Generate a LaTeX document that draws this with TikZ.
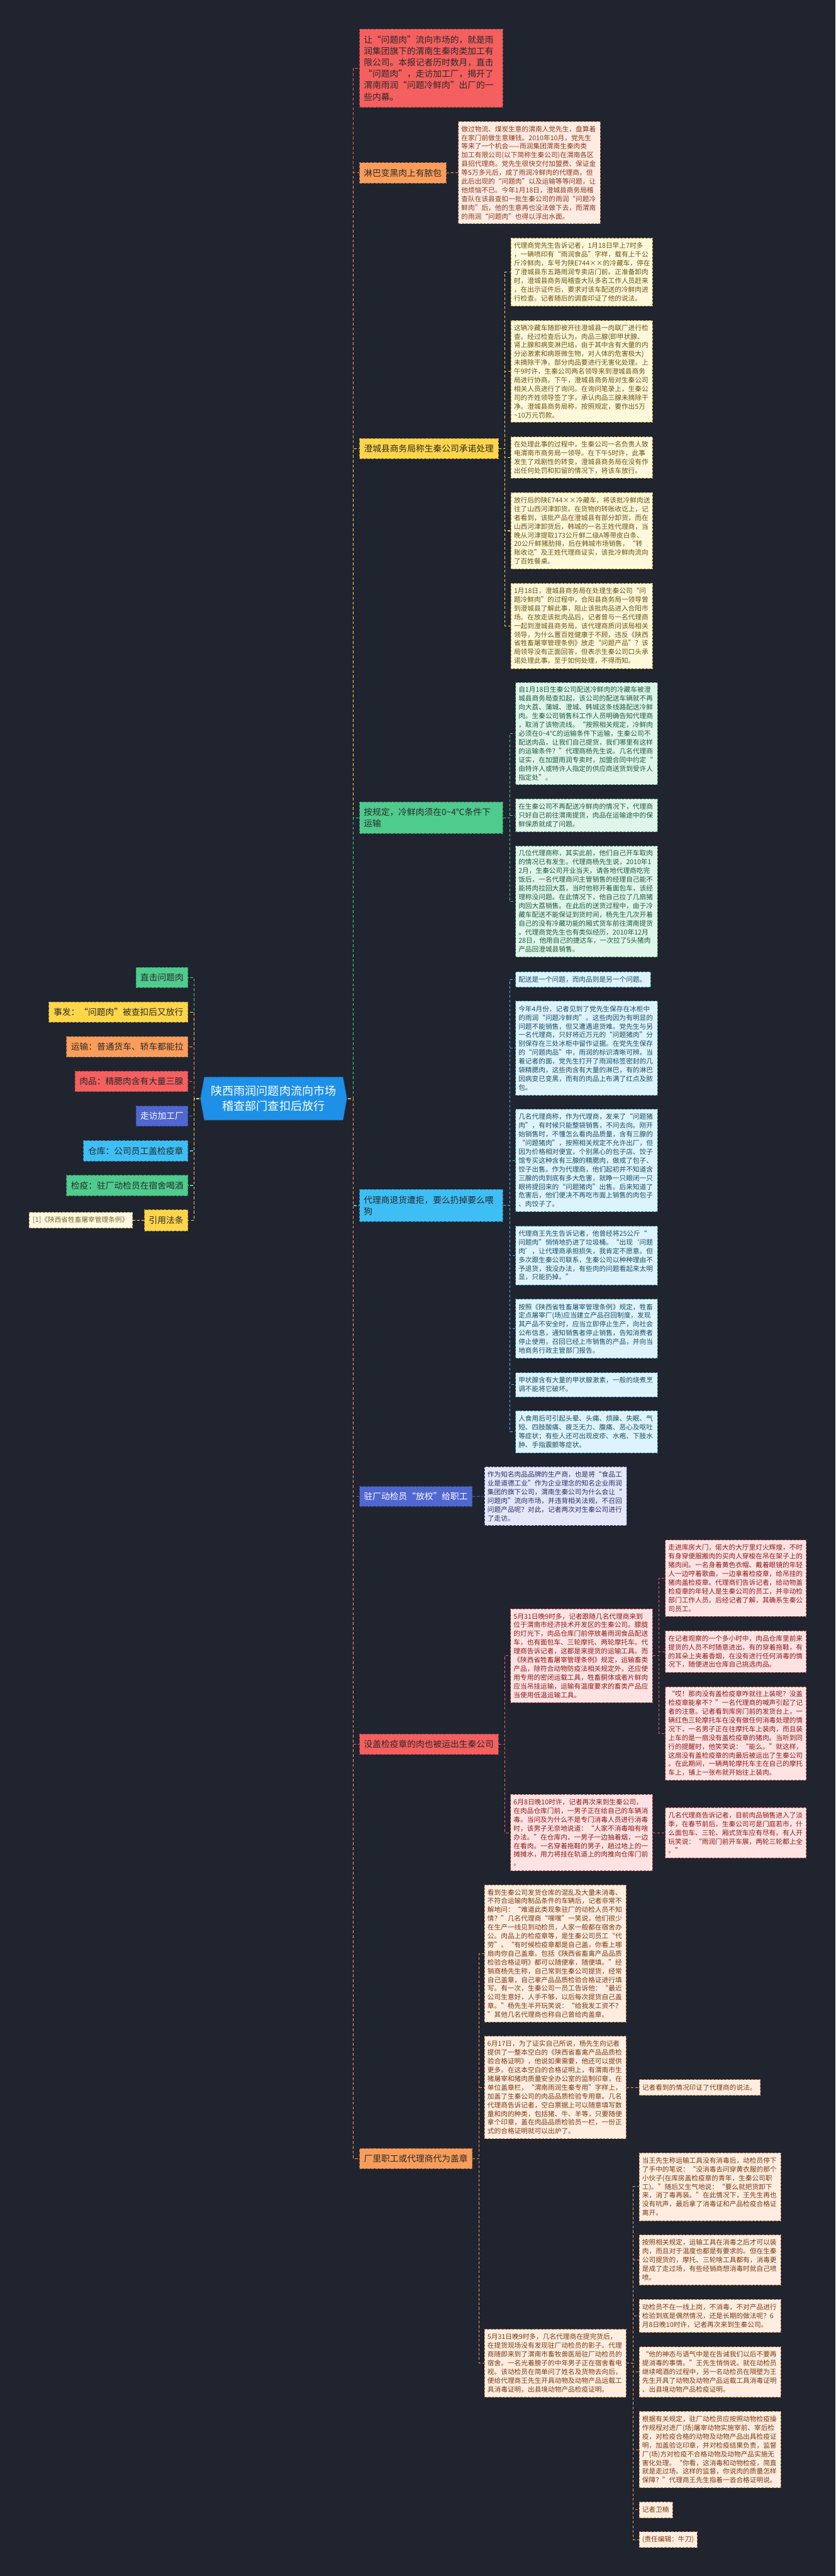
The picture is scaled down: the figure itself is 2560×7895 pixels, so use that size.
\documentclass[tikz,border=0pt]{standalone}
\usepackage{fontspec}
\setmainfont{Noto Sans CJK SC}
\usetikzlibrary{backgrounds}
\definecolor{bg}{HTML}{20242F}
\definecolor{cGreen}{HTML}{4ECB8D}
\definecolor{cYellow}{HTML}{FFD54A}
\definecolor{cOrange}{HTML}{FA9D5A}
\definecolor{cRed}{HTML}{F45F5F}
\definecolor{cPurple}{HTML}{5067D0}
\definecolor{cLblue}{HTML}{3DBEF5}
\definecolor{cCentral}{HTML}{1E90E8}
\definecolor{txtdark}{HTML}{2A2A2A}
\definecolor{fPeach}{HTML}{FEEBE2}\definecolor{tPeach}{HTML}{8A3A1E}
\definecolor{fYellow}{HTML}{FFF8DA}\definecolor{tYellow}{HTML}{6B5514}
\definecolor{fGreen}{HTML}{E0F6EA}\definecolor{tGreen}{HTML}{1F5C3C}
\definecolor{fBlue}{HTML}{DDF4FD}\definecolor{tBlue}{HTML}{1D4D63}
\definecolor{fPurple}{HTML}{E4E7F8}\definecolor{tPurple}{HTML}{2A2F66}
\definecolor{fPink}{HTML}{FFE3E3}\definecolor{tPink}{HTML}{8B1A1A}
\definecolor{fOrange}{HTML}{FFEEE0}\definecolor{tOrange}{HTML}{7A3A14}
\definecolor{fNote}{HTML}{FFF8E3}\definecolor{tNote}{HTML}{7A6A2A}
\tikzset{
  cn/.style={draw=#1, line width=2.5pt, dash pattern=on 9pt off 6pt},
  sc/.style={draw=#1, line width=2pt, dash pattern=on 8pt off 6pt},
  lnode/.style={anchor=north west, inner xsep=13pt, inner ysep=0pt,
    font=\fontsize{26.5}{35}\selectfont, fill=#1, draw=#1!70!black,
    line width=1.5pt, dash pattern=on 8pt off 4pt, text=txtdark},
  tbase/.style={anchor=north west, inner xsep=9pt, inner ysep=0pt, align=left,
    font=\fontsize{20.6}{26.8}\selectfont, line width=1.5pt, dash pattern=on 7pt off 4pt},
  tP/.style={tbase, fill=fPeach, draw=cOrange!80!black, text=tPeach},
  tY/.style={tbase, fill=fYellow, draw=cYellow!75!black, text=tYellow},
  tG/.style={tbase, fill=fGreen, draw=cGreen!75!black, text=tGreen},
  tB/.style={tbase, fill=fBlue, draw=cLblue!75!black, text=tBlue},
  tU/.style={tbase, fill=fPurple, draw=cPurple!80!black, text=tPurple},
  tR/.style={tbase, fill=fPink, draw=cRed!80!black, text=tPink},
  tO/.style={tbase, fill=fOrange, draw=cOrange!80!black, text=tOrange},
}
\newcommand\tb[7]{\pgfmathsetmacro\mytw{#5-18}%
  \node[#2, minimum width=#5pt, minimum height=#6pt, text width=\mytw pt] (#1) at (#3,#4) {#7};}
\begin{document}
\begin{tikzpicture}[x=1pt,y=-1pt]
\useasboundingbox (0,0) rectangle (2560,7895);
\begin{scope}[on background layer]
\fill[bg] (0,0) rectangle (2560,7895);
\end{scope}
\coordinate (lspine) at (595,3367);
\coordinate (rspine) at (1082,3367);

% central
\fill[cCentral, draw=cCentral!70!black, line width=1.5pt, dash pattern=on 8pt off 4pt]
  (614,3367) -- (626,3301) -- (1051,3301) -- (1063,3367) -- (1051,3433) -- (626,3433) -- cycle;
\node[text=white, font=\fontsize{35}{47}\selectfont, align=center, minimum width=425pt,
  minimum height=132pt, inner sep=0pt] (c) at (838.5,3367) {陕西雨润问题肉流向市场\\稽查部门查扣后放行};

% left branches
\node[lnode=cGreen, minimum width=159pt, minimum height=62pt] (L1) at (416,2964) {直击问题肉};
\node[lnode=cYellow, minimum width=426pt, minimum height=62pt] (L2) at (149,3070) {事发：“问题肉”被查扣后又放行};
\node[lnode=cOrange, minimum width=372pt, minimum height=63pt] (L3) at (203,3176) {运输：普通货车、轿车都能拉};
\node[lnode=cRed, minimum width=346pt, minimum height=63pt] (L4) at (229,3282) {肉品：精腮肉含有大量三腺};
\node[lnode=cPurple, text=white, minimum width=159pt, minimum height=62pt] (L5) at (416,3389) {走访加工厂};
\node[lnode=cLblue, minimum width=320pt, minimum height=63pt] (L6) at (255,3495) {仓库：公司员工盖检疫章};
\node[lnode=cGreen, minimum width=372pt, minimum height=63pt] (L7) at (203,3601) {检疫：驻厂动检员在宿舍喝酒};
\node[lnode=cYellow, minimum width=133pt, minimum height=65pt] (L8) at (442,3707) {引用法条};
\node[anchor=north west, inner sep=0pt, fill=fNote, draw=cYellow!70!black, line width=1.5pt,
  dash pattern=on 7pt off 4pt, text=tNote, font=\fontsize{20.6}{26.8}\selectfont,
  minimum width=317pt, minimum height=48pt] (L8a) at (88,3715) {[1]《陕西省牲畜屠宰管理条例》};

% right main nodes
\node[lnode=cRed, align=left, text width=413pt, minimum width=439pt, minimum height=240pt,
  font=\fontsize{26.5}{35.1}\selectfont] (R1) at (1101,88) {让“问题肉”流向市场的，就是雨\\
润集团旗下的渭南生秦肉类加工有\\
限公司。本报记者历时数月，直击\\
“问题肉”，走访加工厂，揭开了\\
渭南雨润“问题冷鲜肉”出厂的一\\
些内幕。};
\node[lnode=cOrange, minimum width=265pt, minimum height=62pt] (R2) at (1101,498) {淋巴变黑肉上有脓包};
\node[lnode=cYellow, minimum width=425pt, minimum height=62pt] (R3) at (1101,1343) {澄城县商务局称生秦公司承诺处理};
\node[lnode=cGreen, align=left, text width=413pt, minimum width=439pt, minimum height=97pt] (R4) at (1101,2457) {按规定，冷鲜肉须在0\textasciitilde4℃条件下\\运输};
\node[lnode=cLblue, align=left, text width=413pt, minimum width=439pt, minimum height=98pt] (R5) at (1101,3645) {代理商退货遭拒，要么扔掉要么喂\\狗};
\node[lnode=cPurple, text=white, minimum width=345pt, minimum height=61pt] (R6) at (1101,4555) {驻厂动检员“放权”给职工};
\node[lnode=cRed, minimum width=425pt, minimum height=62pt] (R7) at (1101,5314) {没盖检疫章的肉也被运出生秦公司};
\node[lnode=cOrange, minimum width=345pt, minimum height=62pt] (R8) at (1101,6584) {厂里职工或代理商代为盖章};

% branch 2
\tb{R2a}{tP}{1404}{372}{435}{313}{做过物流、煤炭生意的渭南人党先生，盘算着\\
在家门前做生意赚钱。2010年10月，党先生\\
等来了一个机会——雨润集团渭南生秦肉类\\
加工有限公司(以下简称生秦公司)在渭南各区\\
县招代理商。党先生很快交付加盟费、保证金\\
等5万多元后，成了雨润冷鲜肉的代理商。但\\
此后出现的“问题肉”以及运输等等问题，让\\
他烦恼不已。今年1月18日，澄城县商务局稽\\
查队在该县查扣一批生秦公司的雨润“问题冷\\
鲜肉”后，他的生意再也没法做下去，而渭南\\
的雨润“问题肉”也得以浮出水面。}

% branch 3
\tb{C31}{tY}{1565}{729}{433}{208}{代理商党先生告诉记者，1月18日早上7时多\\
，一辆喷印有“雨润食品”字样，载有上千公\\
斤冷鲜肉，车号为陕E744××的冷藏车，停在\\
了澄城县东五路雨润专卖店门前。正准备卸肉\\
时，澄城县商务局稽查大队多名工作人员赶来\\
，在出示证件后，要求对该车配送的冷鲜肉进\\
行检查。记者随后的调查印证了他的说法。}
\tb{C32}{tY}{1565}{982}{433}{311}{这辆冷藏车随即被开往澄城县一肉联厂进行检\\
查。经过检查后认为，肉品三腺(即甲状腺、\\
肾上腺和病变淋巴结，由于其中含有大量的内\\
分泌激素和病原微生物，对人体的危害极大)\\
未摘除干净，部分肉品要进行无害化处理。上\\
午9时许，生秦公司两名领导来到澄城县商务\\
局进行协商。下午，澄城县商务局对生秦公司\\
相关人员进行了询问。在询问笔录上，生秦公\\
司的齐姓领导签了字，承认肉品三腺未摘除干\\
净。澄城县商务局称，按照规定，要作出5万\\
\textasciitilde10万元罚款。}
\tb{C33}{tY}{1565}{1338}{433}{127}{在处理此事的过程中，生秦公司一名负责人致\\
电渭南市商务局一领导。在下午5时许，此事\\
发生了戏剧性的转变，澄城县商务局在没有作\\
出任何处罚和扣留的情况下，将该车放行。}
\tb{C34}{tY}{1565}{1509}{433}{234}{放行后的陕E744××冷藏车，将该批冷鲜肉送\\
往了山西河津卸货。在货物的转账收讫上，记\\
者看到，该批产品在澄城县有部分卸货，而在\\
山西河津卸货后，韩城的一名王姓代理商，当\\
晚从河津提取173公斤鲜二级A等带皮白条、\\
20公斤鲜猪肋排，后在韩城市场销售，“转\\
账收讫”及王姓代理商证实，该批冷鲜肉流向\\
了百姓餐桌。}
\tb{C35}{tY}{1565}{1787}{433}{261}{1月18日，澄城县商务局在处理生秦公司“问\\
题冷鲜肉”的过程中，合阳县商务局一领导曾\\
到澄城县了解此事，阻止该批肉品进入合阳市\\
场。在放走该批肉品后，记者曾与一名代理商\\
一起到澄城县商务局，该代理商质问该局相关\\
领导，为什么置百姓健康于不顾，违反《陕西\\
省牲畜屠宰管理条例》放走“问题产品”？该\\
局领导没有正面回答，但表示生秦公司口头承\\
诺处理此事。至于如何处理，不得而知。}

% branch 4
\tb{G1}{tG}{1579}{2091}{435}{313}{自1月18日生秦公司配送冷鲜肉的冷藏车被澄\\
城县商务局查扣起，该公司的配送车辆就不再\\
向大荔、蒲城、澄城、韩城这条线路配送冷鲜\\
肉。生秦公司销售科工作人员明确告知代理商\\
，取消了该物流线。“按照相关规定，冷鲜肉\\
必须在0\textasciitilde4℃的运输条件下运输，生秦公司不\\
配送肉品，让我们自己提货，我们哪里有这样\\
的运输条件？”代理商杨先生说。几名代理商\\
证实，在加盟雨润专卖时，加盟合同中约定“\\
由特许人或特许人指定的供应商送货到受许人\\
指定处”。}
\tb{G2}{tG}{1579}{2448}{435}{101}{在生秦公司不再配送冷鲜肉的情况下，代理商\\
只好自己前往渭南提货，肉品在运输途中的保\\
鲜保质就成了问题。}
\tb{G3}{tG}{1579}{2592}{435}{340}{几位代理商称，其实此前，他们自己开车取肉\\
的情况已有发生。代理商杨先生说，2010年1\\
2月，生秦公司开业当天，请各地代理商吃完\\
饭后，一名代理商问主管销售的经理自己能不\\
能将肉拉回大荔，当时他称开着面包车，该经\\
理称没问题。在此情况下，他自己拉了几扇猪\\
肉回大荔销售。在此后的送货过程中，由于冷\\
藏车配送不能保证到货时间，杨先生几次开着\\
自己的没有冷藏功能的厢式货车前往渭南提货\\
。代理商党先生也有类似经历，2010年12月\\
28日，他用自己的捷达车，一次拉了5头猪肉\\
产品回澄城县销售。}

% branch 5
\tb{B1}{tB}{1579}{2977}{414}{48}{配送是一个问题，而肉品则是另一个问题。}
\tb{B2}{tB}{1579}{3067}{435}{289}{今年4月份，记者见到了党先生保存在冰柜中\\
的雨润“问题冷鲜肉”。这些肉因为有明显的\\
问题不能销售，但又遭遇退货难。党先生与另\\
一名代理商，只好将近万元的“问题猪肉”分\\
别保存在三处冰柜中留作证据。在党先生保存\\
的“问题肉品”中，雨润的标识清晰可辨。当\\
着记者的面，党先生打开了雨润标签密封的几\\
袋精腮肉，这些肉含有大量的淋巴，有的淋巴\\
因病变已变黑，而有的肉品上布满了红点及脓\\
包。}
\tb{B3}{tB}{1579}{3399}{435}{314}{几名代理商称，作为代理商，发来了“问题猪\\
肉”，有时候只能整袋销售，不问去向。刚开\\
始销售时，不懂怎么看肉品质量，含有三腺的\\
“问题猪肉”，按照相关规定不允许出厂，但\\
因为价格相对便宜，个别黑心的包子店、饺子\\
馆专买这种含有三腺的精腮肉，做成了包子、\\
饺子出售。作为代理商，他们起初并不知道含\\
三腺的肉到底有多大危害，就睁一只眼闭一只\\
眼将提回来的“问题猪肉”出售。后来知道了\\
危害后，他们便决不再吃市面上销售的肉包子\\
、肉饺子了。}
\tb{B4}{tB}{1579}{3757}{435}{180}{代理商王先生告诉记者，他曾经将25公斤“\\
问题肉”悄悄地扔进了垃圾桶。“出现‘问题\\
肉’，让代理商承担损失，我肯定不愿意。但\\
多次跟生秦公司联系，生秦公司以种种理由不\\
予退货，我没办法，有些肉的问题看起来太明\\
显，只能扔掉。”}
\tb{B5}{tB}{1579}{3981}{435}{181}{按照《陕西省牲畜屠宰管理条例》规定，牲畜\\
定点屠宰厂(场)应当建立产品召回制度，发现\\
其产品不安全时，应当立即停止生产，向社会\\
公布信息，通知销售者停止销售，告知消费者\\
停止使用，召回已经上市销售的产品，并向当\\
地商务行政主管部门报告。}
\tb{B6}{tB}{1579}{4206}{435}{74}{甲状腺含有大量的甲状腺激素，一般的烧煮烹\\
调不能将它破坏。}
\tb{B7}{tB}{1579}{4323}{435}{129}{人食用后可引起头晕、头痛、烦躁、失眠、气\\
短、四肢酸痛、疲乏无力、腹痛、恶心及呕吐\\
等症状；有些人还可出现皮疹、水疱、下肢水\\
肿、手指震颤等症状。}

% branch 6
\tb{D1}{tU}{1484}{4495}{435}{180}{作为知名肉品品牌的生产商，也是将“食品工\\
业是道德工业”作为企业理念的知名企业雨润\\
集团的旗下公司，渭南生秦公司为什么会让“\\
问题肉”流向市场，并违背相关法规，不召回\\
问题产品呢？对此，记者两次对生秦公司进行\\
了走访。}

% branch 7
\tb{E1}{tR}{1564}{4930}{434}{287}{5月31日晚9时多，记者跟随几名代理商来到\\
位于渭南市经济技术开发区的生秦公司。朦胧\\
的灯光下，肉品仓库门前停放着雨润食品配送\\
车，也有面包车、三轮摩托、两轮摩托车。代\\
理商告诉记者，这都是来提货的运输工具。而\\
《陕西省牲畜屠宰管理条例》规定，运输畜类\\
产品，除符合动物防疫法相关规定外，还应使\\
用专用的密闭运载工具，牲畜胴体或者片鲜肉\\
应当吊挂运输，运输有温度要求的畜类产品应\\
当使用低温运输工具。}
\tb{E1a}{tR}{2038}{4719}{432}{234}{走进库房大门，偌大的大厅里灯火辉煌，不时\\
有身穿便服搬肉的买肉人穿梭在吊在架子上的\\
猪肉间。一名身着黄色衣帽、戴着眼镜的年轻\\
人一边哼着歌曲，一边拿着检疫章，给吊挂的\\
猪肉盖检疫章。代理商们告诉记者，给动物盖\\
检疫章的年轻人是生秦公司的员工，并非动检\\
部门工作人员。后经记者了解，其确系生秦公\\
司员工。}
\tb{E1b}{tR}{2038}{4997}{432}{128}{在记者观察的一个多小时中，肉品仓库里前来\\
提货的人员不时随意进出，有的穿着拖鞋，有\\
的耳朵上夹着香烟，在没有进行任何消毒的情\\
况下，随便进出仓库自己挑选肉品。}
\tb{E1c}{tR}{2038}{5169}{432}{286}{“哎！那肉没有盖检疫章咋就往上装呢？没盖\\
检疫章能拿不？”一名代理商的喊声引起了记\\
者的注意。记者看到库房门前的发货台上，一\\
辆红色三轮摩托车在没有做任何消毒处理的情\\
况下，一名男子正在往摩托车上装肉，而且装\\
上车的是一扇没有盖检疫章的猪肉。当听到同\\
行的提醒时，他笑笑说：“能么。”就这样，\\
这扇没有盖检疫章的肉最后被运出了生秦公司\\
。在此期间，一辆两轮摩托车主在自己的摩托\\
车上，铺上一张布就开始往上装肉。}
\tb{E2}{tR}{1564}{5499}{434}{234}{6月8日晚10时许，记者再次来到生秦公司，\\
在肉品仓库门前，一男子正在给自己的车辆消\\
毒。当问及为什么不是专门消毒人员进行消毒\\
时，该男子无奈地说道：“人家不消毒咱有啥\\
办法。”在仓库内，一男子一边抽着烟，一边\\
在看肉。一名穿着拖鞋的男子，趟过地上的一\\
摊摊水，用力将挂在轨道上的肉推向仓库门前\\
。}
\tb{E2a}{tR}{2038}{5539}{432}{154}{几名代理商告诉记者，目前肉品销售进入了淡\\
季，在春节前后，生秦公司可是门庭若市，什\\
么面包车、三轮、厢式货车应有尽有。有人开\\
玩笑说：“雨润门前开车展，两轮三轮都上全\\
。”}

% branch 8
\tb{O1}{tO}{1484}{5776}{434}{421}{看到生秦公司发货仓库的混乱及大量未消毒、\\
不符合运输肉制品条件的车辆后，记者非常不\\
解地问：“难道此类现象驻厂的动检人员不知\\
情？”几名代理商“嘿嘿”一笑说，他们很少\\
在生产一线见到动检员，人家一般都在宿舍办\\
公。肉品上的检疫章等，是生秦公司员工“代\\
劳”。“有时候检疫章都是自己盖，你看上哪\\
扇肉你自己盖章。包括《陕西省畜禽产品品质\\
检验合格证明》都可以随便拿，随便填。”经\\
销商杨先生称，自己常到生秦公司提货，经常\\
自己盖章，自己拿产品品质检验合格证进行填\\
写。有一次，生秦公司一员工告诉他：“最近\\
公司生意好，人手不够，以后每次提货自己盖\\
章。”杨先生半开玩笑说：“给我发工资不？\\
”其他几名代理商也称自己曾给肉盖章。}
\tb{O2}{tO}{1484}{6240}{434}{314}{6月17日，为了证实自己所说，杨先生向记者\\
提供了一整本空白的《陕西省畜禽产品品质检\\
验合格证明》，他说如果需要，他还可以提供\\
更多。在这本空白的合格证明上，有渭南市生\\
猪屠宰和猪肉质量安全办公室的监制印章，在\\
单位盖章栏，“渭南雨润生秦专用”字样上，\\
加盖了生秦公司的肉品品质检验专用章。几名\\
代理商告诉记者，空白票据上可以随意填写数\\
量和肉的种类，包括猪、牛、羊等，只要随便\\
拿个印章，盖在肉品品质检验员一栏，一份正\\
式的合格证明就可以出炉了。}
\tb{O2a}{tO}{1958}{6373}{371}{48}{记者看到的情况印证了代理商的说法。}
\tb{O3}{tO}{1484}{7138}{434}{208}{5月31日晚9时多，几名代理商在提完货后，\\
在提货现场没有发现驻厂动检员的影子。代理\\
商随即来到了渭南市畜牧兽医局驻厂动检员的\\
宿舍。一名光着膀子的中年男子正在宿舍看电\\
视。该动检员在简单问了姓名及货物去向后，\\
便给代理商王先生开具动物及动物产品运载工\\
具消毒证明，出县境动物产品检疫证明。}
\tb{O3a}{tO}{1958}{6597}{434}{208}{当王先生称运输工具没有消毒后，动检员停下\\
了手中的笔说：“没消毒去问穿黄衣服的那个\\
小伙子(在库房盖检疫章的青年，生秦公司职\\
工)。”随后又生气地说：“要么就把货卸下\\
来，消了毒再装。”在此情况下，王先生再也\\
没有吭声，最后拿了消毒证和产品检疫合格证\\
离开。}
\tb{O3b}{tO}{1958}{6849}{434}{153}{按照相关规定，运输工具在消毒之后才可以装\\
肉，而且对于温度也都是有要求的。但在生秦\\
公司提货的，摩托、三轮啥工具都有，消毒更\\
是成了走过场，有些经销商想消毒时就自己喷\\
喷。}
\tb{O3c}{tO}{1958}{7047}{434}{101}{动检员不在一线上岗，不消毒，不对产品进行\\
检验到底是偶然情况，还是长期的做法呢？6\\
月8日晚10时许，记者再次来到生秦公司。}
\tb{O3d}{tO}{1958}{7192}{434}{154}{“他的神态与语气中是在告诫我们以后不要再\\
提消毒的事情。”王先生悄悄说。就在动检员\\
继续喝酒的过程中，另一名动检员在隔壁为王\\
先生开具了动物及动物产品运载工具消毒证明\\
、出县境动物产品检疫证明。}
\tb{O3e}{tO}{1958}{7390}{434}{234}{根据有关规定，驻厂动检员应按照动物检疫操\\
作规程对进厂(场)屠宰动物实施宰前、宰后检\\
疫，对检疫合格的动物及动物产品出具检疫证\\
明，加盖验讫印章，并对检疫结果负责，监督\\
厂(场)方对检疫不合格动物及动物产品实施无\\
害化处理。“你看，这消毒和动物检疫，简直\\
就是走过场。这样的监督，你说肉的质量怎样\\
保障？”代理商王先生指着一沓合格证明说。}
\tb{O3f}{tO}{1958}{7667}{102}{49}{记者卫楠}
\tb{O3g}{tO}{1958}{7759}{177}{48}{(责任编辑：牛刀)}

% connectors
\begin{scope}[on background layer]
\draw[cn=cGreen]  (c.west) -- (lspine) |- (L1.east);
\draw[cn=cYellow] (c.west) -- (lspine) |- (L2.east);
\draw[cn=cOrange] (c.west) -- (lspine) |- (L3.east);
\draw[cn=cRed]    (c.west) -- (lspine) |- (L4.east);
\draw[cn=cPurple] (c.west) -- (lspine) |- (L5.east);
\draw[cn=cLblue]  (c.west) -- (lspine) |- (L6.east);
\draw[cn=cGreen]  (c.west) -- (lspine) |- (L7.east);
\draw[cn=cYellow] (c.west) -- (lspine) |- (L8.east);
\draw[sc=cYellow] (L8.west) -- (L8a.east);

\draw[cn=cRed]    (c.east) -- (rspine) |- (R1.west);
\draw[cn=cOrange] (c.east) -- (rspine) |- (R2.west);
\draw[cn=cYellow] (c.east) -- (rspine) |- (R3.west);
\draw[cn=cGreen]  (c.east) -- (rspine) |- (R4.west);
\draw[cn=cLblue]  (c.east) -- (rspine) |- (R5.west);
\draw[cn=cPurple] (c.east) -- (rspine) |- (R6.west);
\draw[cn=cRed]    (c.east) -- (rspine) |- (R7.west);
\draw[cn=cOrange] (c.east) -- (rspine) |- (R8.west);

\draw[sc=cOrange] (R2.east) -- (R2a.west);
\foreach \n in {C31,C32,C33,C34,C35} \draw[sc=cYellow] (R3.east) -- ++(20,0) |- (\n.west);
\foreach \n in {G1,G2,G3} \draw[sc=cGreen] (R4.east) -- ++(21,0) |- (\n.west);
\foreach \n in {B1,B2,B3,B4,B5,B6,B7} \draw[sc=cLblue] (R5.east) -- ++(21,0) |- (\n.west);
\draw[sc=cPurple] (R6.east) -- (D1.west);
\foreach \n in {E1,E2} \draw[sc=cRed] (R7.east) -- ++(20,0) |- (\n.west);
\foreach \n in {E1a,E1b,E1c} \draw[sc=cRed] (E1.east) -- ++(19,0) |- (\n.west);
\draw[sc=cRed] (E2.east) -- (E2a.west);
\foreach \n in {O1,O2,O3} \draw[sc=cOrange] (R8.east) -- ++(21,0) |- (\n.west);
\draw[sc=cOrange] (O2.east) -- (O2a.west);
\foreach \n in {O3a,O3b,O3c,O3d,O3e,O3f,O3g} \draw[sc=cOrange] (O3.east) -- ++(21,0) |- (\n.west);
\end{scope}
\end{tikzpicture}
\end{document}
